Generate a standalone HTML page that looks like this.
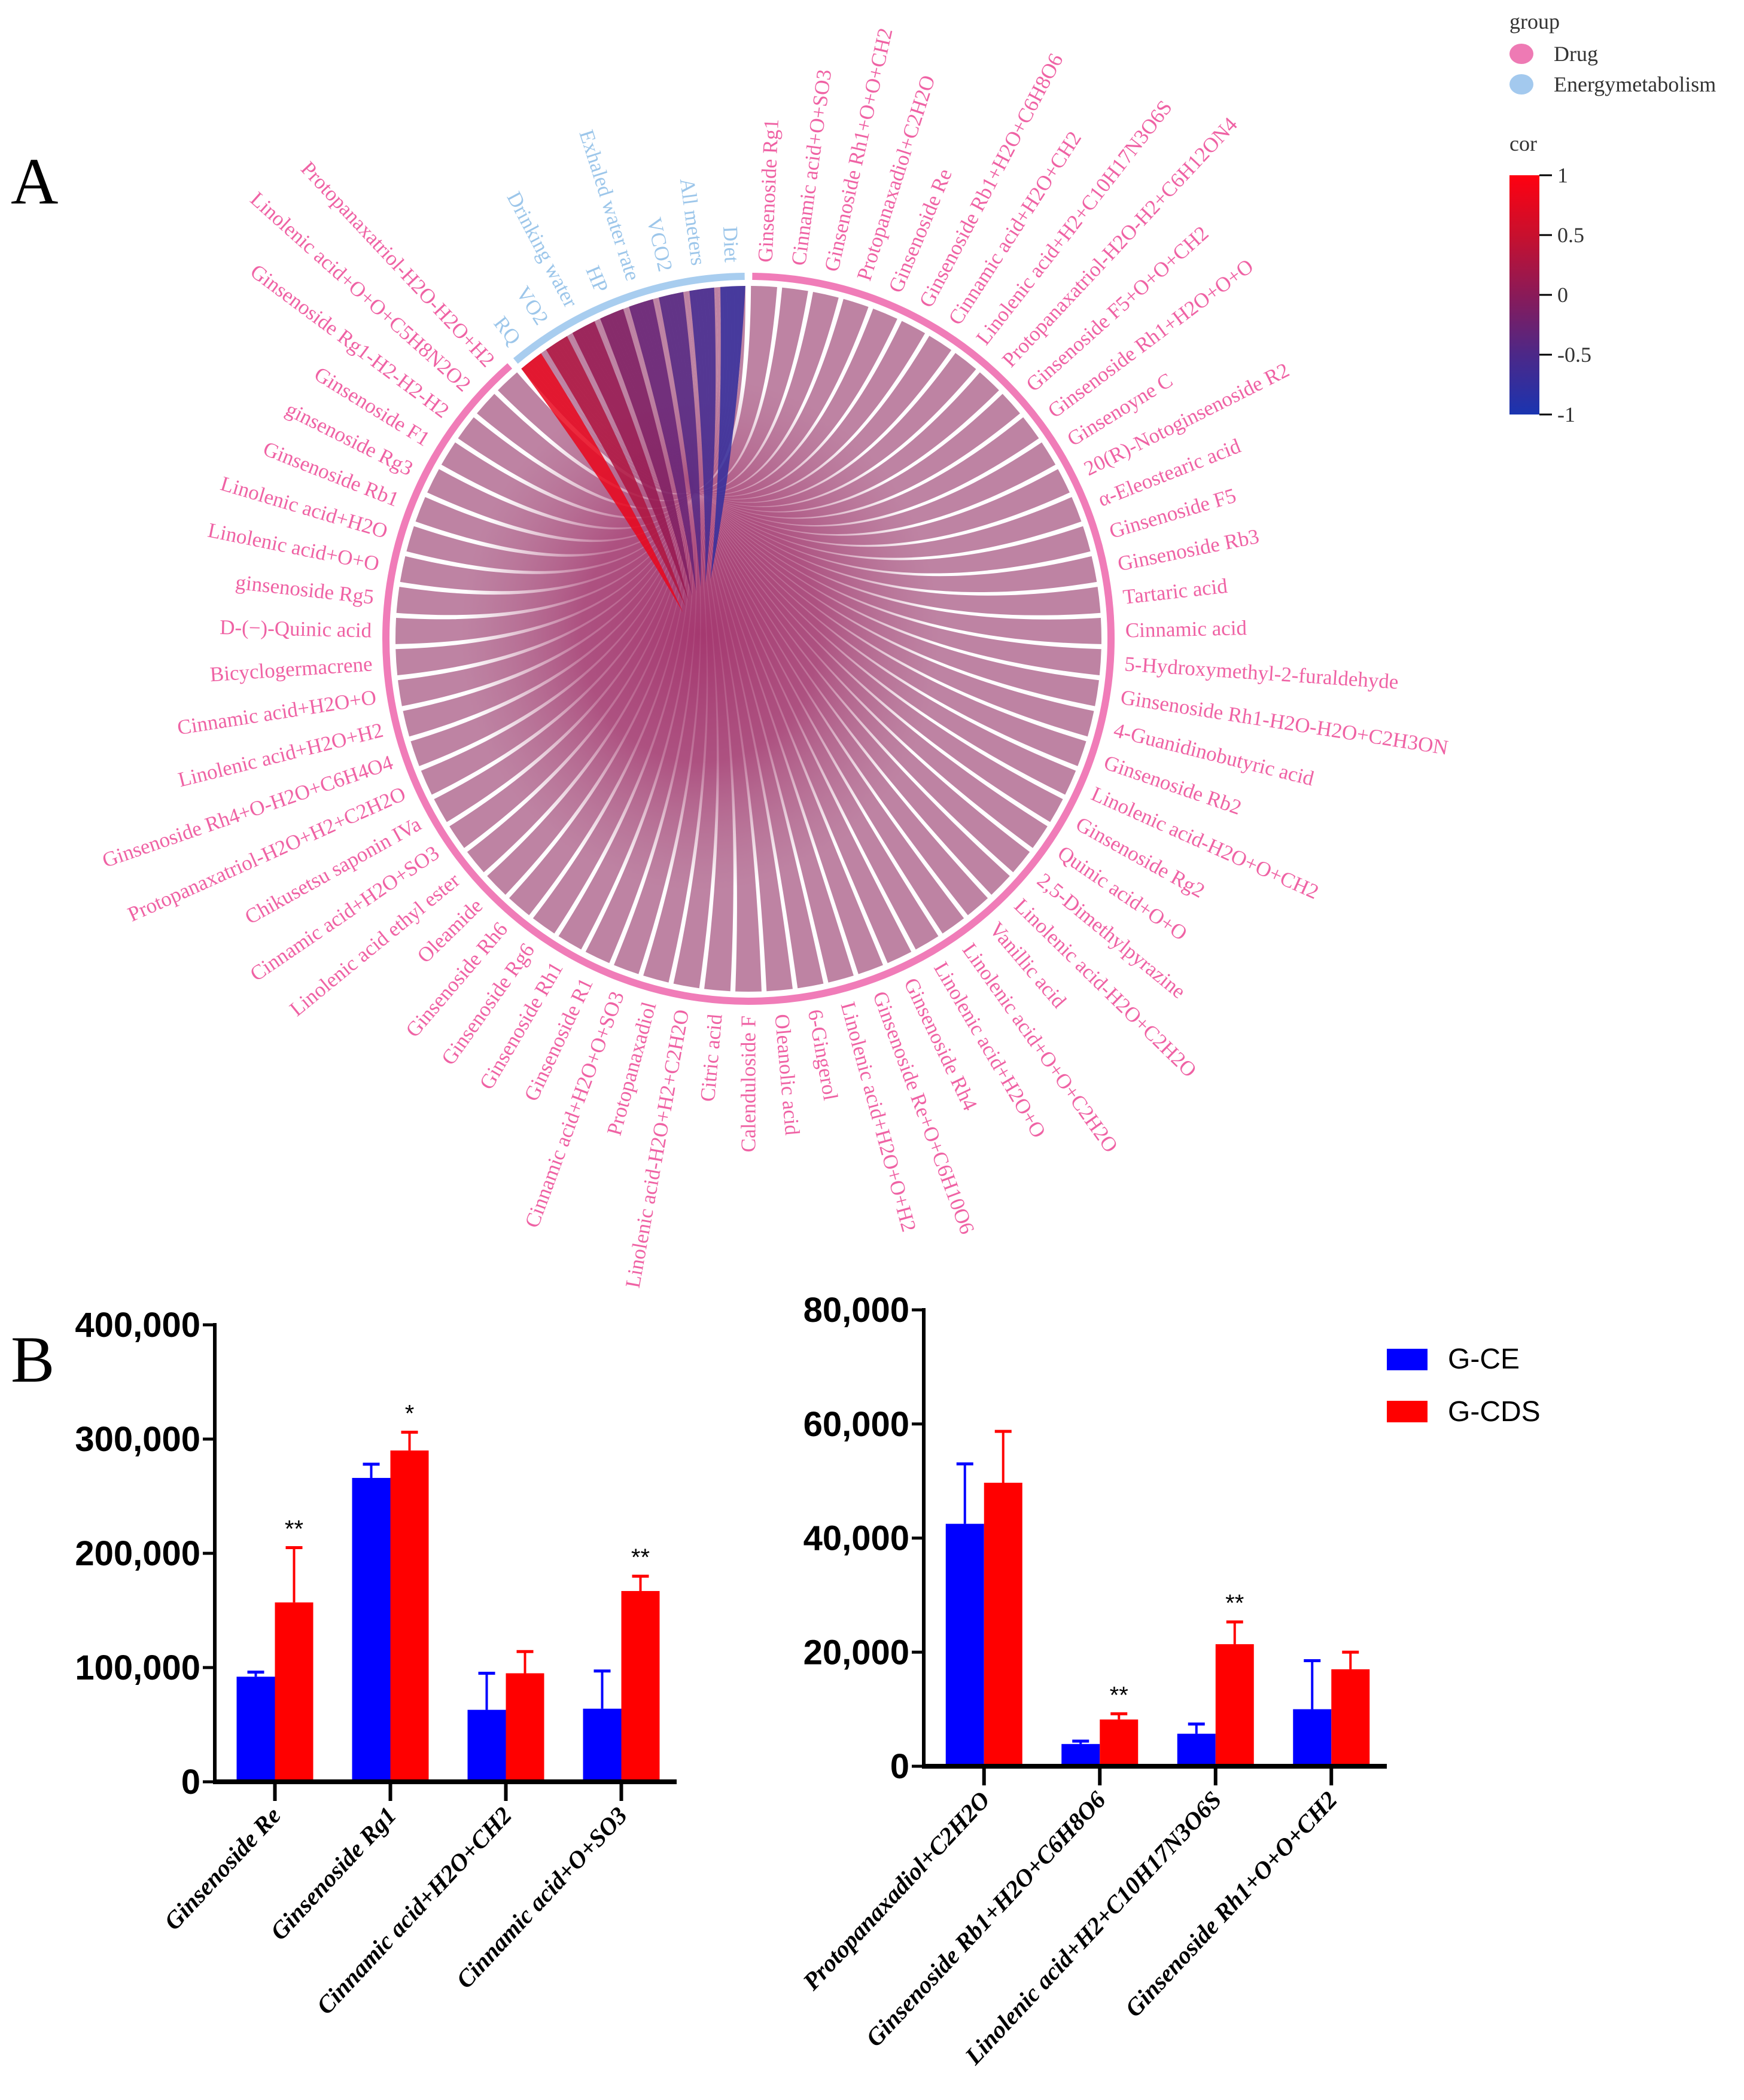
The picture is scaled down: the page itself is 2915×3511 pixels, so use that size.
<!DOCTYPE html>
<html><head><meta charset="utf-8">
<style>
html,body{margin:0;padding:0;background:#fff;}
svg{display:block;}
</style></head>
<body>
<svg id="fig" width="2915" height="3511" viewBox="0 0 2915 3511" xmlns="http://www.w3.org/2000/svg">
<defs>
<linearGradient id="cbar" x1="0" y1="0" x2="0" y2="1">
<stop offset="0" stop-color="#ff0010"/><stop offset="0.25" stop-color="#c8102e"/>
<stop offset="0.5" stop-color="#8a1a58"/><stop offset="0.75" stop-color="#4c2888"/>
<stop offset="1" stop-color="#1a34b0"/></linearGradient>
<radialGradient id="blob" cx="0.5" cy="0.5" r="0.5">
<stop offset="0" stop-color="#a2306a" stop-opacity="0.9"/>
<stop offset="0.5" stop-color="#a63c72" stop-opacity="0.7"/>
<stop offset="1" stop-color="#b06088" stop-opacity="0"/></radialGradient>
</defs>
<text x="18" y="340" font-family="Liberation Serif, serif" font-size="110" fill="#000">A</text>
<text x="18" y="2310" font-family="Liberation Serif, serif" font-size="110" fill="#000">B</text>
<g id="chord"></g>
<g id="legend">
<text x="2523" y="48" font-family="Liberation Serif, serif" font-size="36" fill="#333">group</text>
<ellipse cx="2543" cy="90" rx="20" ry="17" fill="#ee7ab4"/>
<text x="2597" y="102" font-family="Liberation Serif, serif" font-size="36" fill="#333">Drug</text>
<ellipse cx="2543" cy="141" rx="20" ry="17" fill="#a3c9ee"/>
<text x="2597" y="153" font-family="Liberation Serif, serif" font-size="36" fill="#333">Energymetabolism</text>
<text x="2523" y="252" font-family="Liberation Serif, serif" font-size="36" fill="#333">cor</text>
<rect x="2523" y="293" width="50" height="400" fill="url(#cbar)"/>
<g id="cbticks"></g>
</g>
<g id="barL"></g>
<g id="barR"></g>
<g>
<rect x="2318" y="2255" width="68" height="36" fill="#0000ff"/>
<text x="2420" y="2288" font-family="Liberation Sans Narrow, Liberation Sans, sans-serif" font-size="48" fill="#000">G-CE</text>
<rect x="2318" y="2342" width="68" height="36" fill="#ff0000"/>
<text x="2420" y="2376" font-family="Liberation Sans Narrow, Liberation Sans, sans-serif" font-size="48" fill="#000">G-CDS</text>
</g>
</svg>
<script>
const NS="http://www.w3.org/2000/svg";
const energyNames=["Diet","All meters","VCO2","Exhaled water rate","HP","Drinking water","VO2","RQ"];
const energyCor=[-0.75,-0.6,-0.45,-0.3,-0.1,0.1,0.3,0.8];
const drugNames=["Ginsenoside Rg1","Cinnamic acid+O+SO3","Ginsenoside Rh1+O+O+CH2","Protopanaxadiol+C2H2O","Ginsenoside Re","Ginsenoside Rb1+H2O+C6H8O6","Cinnamic acid+H2O+CH2","Linolenic acid+H2+C10H17N3O6S","Protopanaxatriol-H2O-H2+C6H12ON4","Ginsenoside F5+O+O+CH2","Ginsenoside Rh1+H2O+O+O","Ginsenoyne C","20(R)-Notoginsenoside R2","α-Eleostearic acid","Ginsenoside F5","Ginsenoside Rb3","Tartaric acid","Cinnamic acid","5-Hydroxymethyl-2-furaldehyde","Ginsenoside Rh1-H2O-H2O+C2H3ON","4-Guanidinobutyric acid","Ginsenoside Rb2","Linolenic acid-H2O+O+CH2","Ginsenoside Rg2","Quinic acid+O+O","2,5-Dimethylpyrazine","Linolenic acid-H2O+C2H2O","Vanillic acid","Linolenic acid+O+O+C2H2O","Linolenic acid+H2O+O","Ginsenoside Rh4","Ginsenoside Re+O+C6H10O6","Linolenic acid+H2O+O+H2","6-Gingerol","Oleanolic acid","Calenduloside F","Citric acid","Linolenic acid-H2O+H2+C2H2O","Protopanaxadiol","Cinnamic acid+H2O+O+SO3","Ginsenoside R1","Ginsenoside Rh1","Ginsenoside Rg6","Ginsenoside Rh6","Oleamide","Linolenic acid ethyl ester","Cinnamic acid+H2O+SO3","Chikusetsu saponin IVa","Protopanaxatriol-H2O+H2+C2H2O","Ginsenoside Rh4+O-H2O+C6H4O4","Linolenic acid+H2O+H2","Cinnamic acid+H2O+O","Bicyclogermacrene","D-(−)-Quinic acid","ginsenoside Rg5","Linolenic acid+O+O","Linolenic acid+H2O","Ginsenoside Rb1","ginsenoside Rg3","Ginsenoside F1","Ginsenoside Rg1-H2-H2-H2","Linolenic acid+O+O+C5H8N2O2","Protopanaxatriol-H2O-H2O+H2"];

const cx=1251, cy=1068, Rring=606, Rband=590;
const step=360/(energyNames.length+drugNames.length);
const chord=document.getElementById('chord');
function pt(r,a){const t=a*Math.PI/180;return [cx+r*Math.sin(t),cy-r*Math.cos(t)];}
function corColor(v){
  const stops=[[-1,[26,52,176]],[-0.5,[76,40,136]],[0,[138,26,88]],[0.5,[200,16,46]],[1,[255,0,16]]];
  for(let i=0;i<4;i++){const a=stops[i],b=stops[i+1];if(v<=b[0]){const f=(v-a[0])/(b[0]-a[0]);return 'rgb('+a[1].map((c,k)=>Math.round(c+(b[1][k]-c)*f)).join(',')+')';}}
  return 'rgb(255,0,16)';
}
function arcPath(r,a1,a2){const p1=pt(r,a1),p2=pt(r,a2);return `M${p1[0]},${p1[1]} A${r},${r} 0 ${Math.abs(a2-a1)>180?1:0} 1 ${p2[0]},${p2[1]}`;}
let ringD=document.createElementNS(NS,'path');
ringD.setAttribute('d',arcPath(Rring,0.6,360-step*energyNames.length-0.6));
ringD.setAttribute('fill','none');ringD.setAttribute('stroke','#f07cb8');ringD.setAttribute('stroke-width','12');


chord.appendChild(ringD);
let ringE=document.createElementNS(NS,'path');
ringE.setAttribute('d',arcPath(Rring,-step*energyNames.length+0.6,-0.6));
ringE.setAttribute('fill','none');ringE.setAttribute('stroke','#a8cdef');ringE.setAttribute('stroke-width','12');


chord.appendChild(ringE);
const nD=drugNames.length, eStart=-step*energyNames.length, eSpan=step*energyNames.length;
const labels=[];
drugNames.forEach((n,i)=>{
  const a=step*(i+0.5), a1=a-step*0.42, a2=a+step*0.42;
  const t1=eStart+0.5+(eSpan-1)*(i/nD), t2=t1+(eSpan-1)/nD;
  const p1=pt(Rband,a1),p2=pt(Rband,a2),q1=pt(Rband,t2),q2=pt(Rband,t1);
  const c1=pt(Rband*0.3,a2),c2=pt(Rband*0.3,t2),c3=pt(Rband*0.3,t1),c4=pt(Rband*0.3,a1);
  const d=`M${p1[0]},${p1[1]} A${Rband},${Rband} 0 0 1 ${p2[0]},${p2[1]} C${c1[0]},${c1[1]} ${c2[0]},${c2[1]} ${q1[0]},${q1[1]} L${q2[0]},${q2[1]} C${c3[0]},${c3[1]} ${c4[0]},${c4[1]} ${p1[0]},${p1[1]}Z`;
  const p=document.createElementNS(NS,'path');
  p.setAttribute('d',d);p.setAttribute('fill','#a85a84');p.setAttribute('fill-opacity','0.75');
  
  
  chord.appendChild(p);
  labels.push([n,a,'#ef62a4','drug-label']);
});
const blob=document.createElementNS(NS,'ellipse');
blob.setAttribute('cx',1170);blob.setAttribute('cy',1060);blob.setAttribute('rx',400);blob.setAttribute('ry',430);
blob.setAttribute('fill','url(#blob)');


chord.appendChild(blob);
energyNames.forEach((n,k)=>{
  const a=-step*(k+0.5), a1=a-step*0.4, a2=a+step*0.4;
  const p1=pt(Rband,a1),p2=pt(Rband,a2);
  const m1=pt(Rband*0.55,a2-3),m2=pt(Rband*0.55,a1-3);
  const tip=pt(Rband*0.2,a-30);
  const d=`M${p1[0]},${p1[1]} A${Rband},${Rband} 0 0 1 ${p2[0]},${p2[1]} Q${m1[0]},${m1[1]} ${tip[0]},${tip[1]} Q${m2[0]},${m2[1]} ${p1[0]},${p1[1]}Z`;
  const p=document.createElementNS(NS,'path');
  p.setAttribute('d',d);p.setAttribute('fill',corColor(energyCor[k]));p.setAttribute('fill-opacity','0.85');
  
  
  chord.appendChild(p);
  labels.push([n,a,'#9cc6ea','energy-label']);
});
labels.forEach(([n,a,col,nm])=>{
  const lp=pt(Rring+24,a);const txt=document.createElementNS(NS,'text');
  txt.textContent=n;txt.setAttribute('x',lp[0]);txt.setAttribute('y',lp[1]);
  txt.setAttribute('font-family','Liberation Serif, serif');txt.setAttribute('font-size','35');txt.setAttribute('fill',col);
  txt.setAttribute('dominant-baseline','central');
  const aa=((a%360)+360)%360;
  if(aa<180){txt.setAttribute('transform',`rotate(${aa-90} ${lp[0]} ${lp[1]})`);txt.setAttribute('text-anchor','start');}
  else{txt.setAttribute('transform',`rotate(${aa+90} ${lp[0]} ${lp[1]})`);txt.setAttribute('text-anchor','end');}
  
  
  chord.appendChild(txt);
});
const cbTicks=["1","0.5","0","-0.5","-1"];
const cbg=document.getElementById('cbticks');
cbTicks.forEach((t,i)=>{
  const y=293+i*100;
  const l=document.createElementNS(NS,'line');
  l.setAttribute('x1',2573);l.setAttribute('x2',2594);l.setAttribute('y1',y);l.setAttribute('y2',y);l.setAttribute('stroke','#000');l.setAttribute('stroke-width','3');
  
  
  cbg.appendChild(l);
  const tx=document.createElementNS(NS,'text');tx.textContent=t;tx.setAttribute('x',2603);tx.setAttribute('y',y+12);
  tx.setAttribute('font-family','Liberation Serif, serif');tx.setAttribute('font-size','36');tx.setAttribute('fill','#333');
  
  
  cbg.appendChild(tx);
});

const catsL=["Ginsenoside Re","Ginsenoside Rg1","Cinnamic acid+H2O+CH2","Cinnamic acid+O+SO3"];
const gceL=[92000,266000,63000,64000];
const gceErrL=[4000,12000,32000,33000];
const gcdsL=[157000,290000,95000,167000];
const gcdsErrL=[48000,16000,19000,13000];
const sigL=["**","*","","**"];
const ticksL=[0,100000,200000,300000,400000];
const catsR=["Protopanaxadiol+C2H2O","Ginsenoside Rb1+H2O+C6H8O6","Linolenic acid+H2+C10H17N3O6S","Ginsenoside Rh1+O+O+CH2"];
const gceR=[42500,3900,5700,10000];
const gceErrR=[10500,500,1700,8500];
const gcdsR=[49700,8200,21400,17000];
const gcdsErrR=[9000,1000,3900,3000];
const sigR=["","**","**",""];
const ticksR=[0,20000,40000,60000,80000];

function drawBar(g,cfg){
  const {x0,x1,y0,yTop,max,cats,a,ae,b,be,sig,ticks}=cfg;
  const ys=v=>y0-(v/max)*(y0-yTop);
  const bw=(x1-x0)/cats.length;
  function add(tag,attrs,name){const e=document.createElementNS(NS,tag);for(const k in attrs)e.setAttribute(k,attrs[k]);
    
    
    g.appendChild(e);return e;}
  cats.forEach((c,i)=>{
    const xc=x0+bw*(i+0.5)+4, w=64;
    [[a[i],ae[i],'#0000ff',xc-w,'bar-gce'],[b[i],be[i],'#ff0000',xc,'bar-gcds']].forEach(([v,e,col,x,nm])=>{
      const yv=ys(v),ye=ys(v+e);
      add('line',{x1:x+w/2,x2:x+w/2,y1:yv,y2:ye,stroke:col,'stroke-width':4},'error-bar');
      add('line',{x1:x+w/2-14,x2:x+w/2+14,y1:ye,y2:ye,stroke:col,'stroke-width':5},'error-cap');
      add('rect',{x:x,y:yv,width:w,height:y0-yv,fill:col},nm);
    });
    if(sig[i]){const t=add('text',{x:xc+w/2,y:ys(b[i]+be[i])-18,'text-anchor':'middle','font-family':'Liberation Sans, sans-serif','font-size':40,fill:'#000'},'significance-marker');t.textContent=sig[i];}
    add('line',{x1:xc,x2:xc,y1:y0,y2:y0+32,stroke:'#000','stroke-width':6},'x-tick');
    const lx=xc+12,ly=y0+58;
    const t=add('text',{x:lx,y:ly,'text-anchor':'end','font-family':'Liberation Serif, serif','font-style':'italic','font-weight':'bold','font-size':41,fill:'#000',transform:`rotate(-47 ${lx} ${ly})`},'x-tick-label');t.textContent=c;
  });
  add('line',{x1:x0,x2:x0,y1:yTop-3,y2:y0+3,stroke:'#000','stroke-width':6},'y-axis');
  add('line',{x1:x0-3,x2:x1,y1:y0,y2:y0,stroke:'#000','stroke-width':8},'x-axis');
  ticks.forEach(v=>{const y=ys(v);
    add('line',{x1:x0-20,x2:x0,y1:y,y2:y,stroke:'#000','stroke-width':5},'y-tick');
    const t=add('text',{x:x0-24,y:y+20,'text-anchor':'end','font-family':'Liberation Sans Narrow, Liberation Sans, sans-serif','font-weight':'bold','font-size':58,fill:'#000'},'y-tick-label');t.textContent=v.toLocaleString('en-US');});
}
drawBar(document.getElementById('barL'),{x0:359,x1:1131,y0:2979,yTop:2215,max:400000,cats:catsL,a:gceL,ae:gceErrL,b:gcdsL,be:gcdsErrL,sig:sigL,ticks:ticksL});
drawBar(document.getElementById('barR'),{x0:1544,x1:2318,y0:2953,yTop:2190,max:80000,cats:catsR,a:gceR,ae:gceErrR,b:gcdsR,be:gcdsErrR,sig:sigR,ticks:ticksR});
</script>
</body></html>
